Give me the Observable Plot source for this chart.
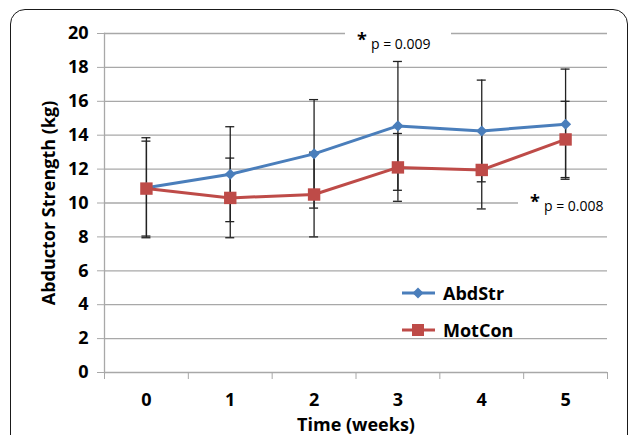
<!DOCTYPE html>
<html>
<head>
<meta charset="utf-8">
<script src="https://cdn.jsdelivr.net/npm/d3@7"></script>
<script src="https://cdn.jsdelivr.net/npm/@observablehq/plot@0.6"></script>
<style>
  html, body { margin: 0; padding: 0; background: #fff; overflow: hidden; }
  #wrap { position: relative; width: 630px; height: 435px; font-family: "Open Sans", sans-serif; }
  #border { position: absolute; left: 10px; top: 9px; width: 618px; height: 470px; box-sizing: border-box;
            border: 1.6px solid #1a1a1a; border-radius: 15px; pointer-events: none; }
  .note { position: absolute; background: #fff; white-space: nowrap; color: #000; }
  .note b { font-size: 18px; font-weight: bold; position: relative; top: -3px; }
  .note span { font-size: 14px; }
  #legend { position: absolute; left: 401px; top: 280px; font-size: 18px; font-weight: bold; }
  #legend div { display: flex; align-items: center; height: 26px; margin-bottom: 11px; }
  #legend svg { margin-right: 6px; }
  svg.plot { position: absolute; left: 0; top: 0; }
</style>
</head>
<body>
<div id="wrap">
  <div id="border"></div>
</div>
<script>
// ---- data ----
const weeks = [0, 1, 2, 3, 4, 5];
const seriesNames = ["AbdStr", "MotCon"];
const seriesColors = ["#4A7EBB", "#BE4B48"];
const abdStr    = [10.9, 11.7, 12.9, 14.55, 14.25, 14.65];
const abdStrErr = [2.95, 2.8, 3.2, 3.8, 3.0, 3.25];
const motCon    = [10.85, 10.3, 10.5, 12.1, 11.95, 13.75];
const motConErr = [2.8, 2.35, 2.5, 2.0, 2.3, 2.25];
const yTicks = [0, 2, 4, 6, 8, 10, 12, 14, 16, 18, 20];
const notes = [
  {star: "*", text: "p = 0.009"},
  {star: "*", text: "p = 0.008"}
];

// ---- build table ----
const rows = weeks.flatMap((w, i) => [
  {series: "AbdStr", week: w, value: abdStr[i], err: abdStrErr[i]},
  {series: "MotCon", week: w, value: motCon[i], err: motConErr[i]}
]);
const boundaries = [...weeks.map(w => w - 0.5), weeks[weeks.length - 1] + 0.5];
const abd = rows.filter(d => d.series === "AbdStr");
const mot = rows.filter(d => d.series === "MotCon");
const caps = rows.flatMap(d => [{...d, y: d.value - d.err}, {...d, y: d.value + d.err}]);

const grid = "#a8a8a8";
const chart = Plot.plot({
  width: 630, height: 435,
  marginLeft: 104, marginRight: 23, marginTop: 33, marginBottom: 63,
  style: {fontFamily: "'Open Sans', sans-serif", background: "transparent", color: "#000"},
  x: {type: "linear", domain: [boundaries[0], boundaries[boundaries.length - 1]]},
  y: {domain: [0, 20]},
  color: {domain: seriesNames, range: seriesColors},
  marks: [
    Plot.ruleY(yTicks, {stroke: grid, strokeWidth: 1.3}),
    Plot.frame({anchor: "left", stroke: grid, strokeWidth: 1.3}),
    Plot.axisY({ticks: yTicks, tickSize: 7, stroke: grid, text: null, label: null}),
    Plot.axisY({ticks: yTicks, tickSize: 0, tickPadding: 16, fontSize: 18, fontWeight: "bold", fill: "#000", label: null}),
    Plot.axisY({ticks: [], label: "Abductor Strength (kg)", labelAnchor: "center", labelArrow: "none", labelOffset: 62, fontSize: 18, fontWeight: "bold"}),
    Plot.axisX({ticks: boundaries, tickSize: 7, stroke: grid, text: null, label: null}),
    Plot.axisX({ticks: weeks, tickFormat: d => String(d), tickSize: 0, tickPadding: 21, fontSize: 18, fontWeight: "bold", label: null}),
    Plot.axisX({ticks: [], label: "Time (weeks)", labelAnchor: "center", labelArrow: "none", labelOffset: 58, fontSize: 18, fontWeight: "bold"}),
    Plot.ruleX(rows, {x: "week", y1: d => d.value - d.err, y2: d => d.value + d.err, stroke: "#222", strokeWidth: 1.3}),
    Plot.ruleY(caps, {y: "y", x1: "week", x2: "week", insetLeft: -4.5, insetRight: -4.5, stroke: "#222", strokeWidth: 1.3}),
    Plot.line(abd, {x: "week", y: "value", stroke: seriesColors[0], strokeWidth: 3}),
    Plot.line(mot, {x: "week", y: "value", stroke: seriesColors[1], strokeWidth: 3}),
    Plot.dot(abd, {x: "week", y: "value", symbol: "diamond2", r: 5, fill: seriesColors[0], stroke: "none"}),
    Plot.dot(mot, {x: "week", y: "value", symbol: "square", r: 7, fill: seriesColors[1], stroke: "none"})
  ]
});
const wrap = document.getElementById("wrap");
wrap.insertBefore(chart, wrap.firstChild);

// annotations
const pos = [{left: 345, top: 30, pad: "0 20px 0 12px"}, {left: 518, top: 192, pad: "0 6px 0 12px"}];
notes.forEach((n, i) => {
  const el = document.createElement("div");
  el.className = "note";
  el.style.left = pos[i].left + "px";
  el.style.top = pos[i].top + "px";
  el.style.padding = pos[i].pad;
  el.innerHTML = `<b>${n.star}</b> <span>${n.text}</span>`;
  wrap.appendChild(el);
});

// legend
const legend = document.createElement("div");
legend.id = "legend";
const swatch = (i) => {
  const c = seriesColors[i];
  const marker = i === 0
    ? `<path d="M17,7.5 L22.5,13 L17,18.5 L11.5,13 Z" fill="${c}"/>`
    : `<rect x="11" y="7" width="12" height="12" fill="${c}"/>`;
  return `<svg width="36" height="26"><line x1="1" x2="34" y1="13" y2="13" stroke="${c}" stroke-width="3"/>${marker}</svg>`;
};
legend.innerHTML = seriesNames.map((s, i) => `<div>${swatch(i)}<span>${s}</span></div>`).join("");
wrap.appendChild(legend);
</script>
</body>
</html>
